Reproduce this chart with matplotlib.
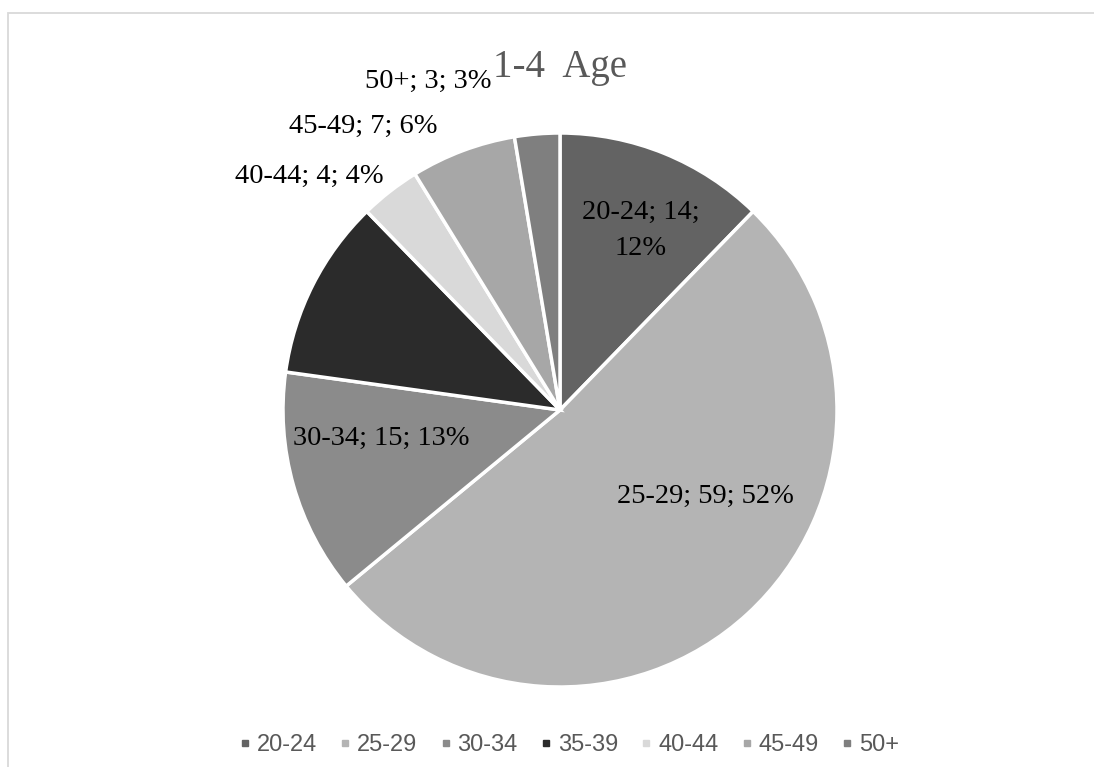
import matplotlib
matplotlib.use("Agg")
import matplotlib.pyplot as plt
import matplotlib.patches as patches
from matplotlib.lines import Line2D

# Age groups and respondent counts
age_groups = ['20-24', '25-29', '30-34', '35-39', '40-44', '45-49', '50+']
counts = [14, 59, 15, 12, 4, 7, 3]
percent_labels = ['12%', '52%', '13%', '11%', '4%', '6%', '3%']
slice_colors = ['#636363', '#b4b4b4', '#8b8b8b', '#2b2b2b', '#d9d9d9', '#a7a7a7', '#7f7f7f']

# data-label placement (pie data coords); None = label hidden like the original
label_pos = [(0.291, 0.647), (0.525, -0.313), (-0.644, -0.104), None,
             (-0.906, 0.845), (-0.712, 1.022), (-0.475, 1.187)]

W, H = 1094, 767
fig = plt.figure(figsize=(W / 100, H / 100), dpi=100)

# light frame of the chart area (only top/left visible)
frame = patches.Rectangle((8 / W, -0.1), 1.2, 1.1 - 13 / H, transform=fig.transFigure,
                          fill=False, edgecolor='#d9d9d9', linewidth=1.3)
fig.patches.append(frame)

cx, cy, r = 560, 410, 277
ax = fig.add_axes([(cx - r) / W, (H - cy - r) / H, 2 * r / W, 2 * r / H])
ax.pie(counts, colors=slice_colors, startangle=90, counterclock=False, radius=1,
       wedgeprops=dict(edgecolor='white', linewidth=2.5))
ax.set_xlim(-1, 1)
ax.set_ylim(-1, 1)
ax.set_aspect('equal')
ax.axis('off')

serif = ['Liberation Serif', 'DejaVu Serif']
for grp, n, pct, pos in zip(age_groups, counts, percent_labels, label_pos):
    if pos is None:
        continue
    txt = f'{grp}; {n}; {pct}'
    if grp == '20-24':
        txt = f'{grp}; {n};\n{pct}'
    ax.text(pos[0], pos[1], txt, ha='center', va='center', fontsize=20.5,
            family=serif, color='black', linespacing=1.6, clip_on=False)

fig.text(560 / W, 1 - 77 / H, '1-4  Age', ha='center', va='baseline',
         fontsize=28, family=serif, color='#595959')

handles = [Line2D([0], [0], marker='s', linestyle='none', markersize=5,
                  markerfacecolor=c, markeredgecolor=c) for c in slice_colors]
leg = fig.legend(handles, age_groups, loc='center', ncol=7,
                 bbox_to_anchor=(569 / W, 1 - 745 / H), frameon=False,
                 prop=dict(family='Liberation Sans', size=17),
                 handlelength=0.5, handletextpad=0.25, columnspacing=0.95)
for t in leg.get_texts():
    t.set_color('#595959')

fig.savefig('out.png', dpi=100)
